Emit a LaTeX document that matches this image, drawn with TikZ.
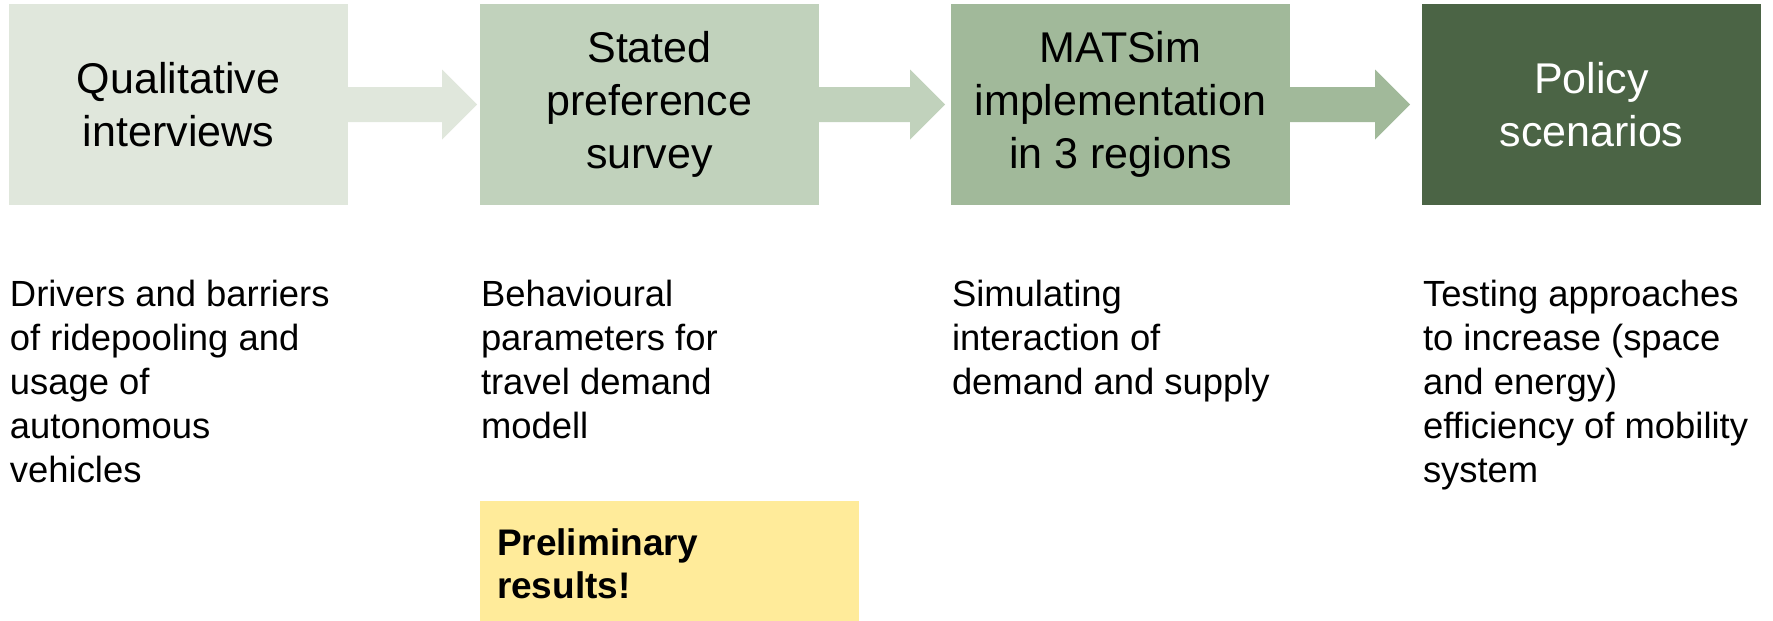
\documentclass[tikz,border=0pt]{standalone}
\usepackage{fontspec}
\setmainfont{Liberation Sans}
\usetikzlibrary{calc}
\definecolor{stageA}{HTML}{E0E7DC}
\definecolor{stageB}{HTML}{C1D2BC}
\definecolor{stageC}{HTML}{A1B99A}
\definecolor{stageD}{HTML}{4B6445}
\definecolor{notefill}{HTML}{FFEB9A}
\begin{document}
\begin{tikzpicture}[x=0.5pt,y=-0.5pt,
  stagebox/.style={rectangle, inner sep=0pt, outer sep=0pt,
    minimum width=169.5pt, minimum height=100.5pt, align=center,
    font=\fontsize{21.5}{26.5}\selectfont},
  desc/.style={anchor=base west, inner sep=0pt, outer sep=0pt,
    font=\fontsize{18.2}{22}\selectfont}]
\useasboundingbox (0,0) rectangle (1773,621);

% process stages
\node[stagebox, fill=stageA] (qual) at (178.5,104.5) {Qualitative\\interviews};
\node[stagebox, fill=stageB] (stat) at (649.5,104.5) {Stated\\preference\\survey};
\node[stagebox, fill=stageC] (mats) at (1120.5,104.5) {MATSim\\implementation\\in 3 regions};
\node[stagebox, fill=stageD, text=white] (poli) at (1591.5,104.5) {Policy\\scenarios};

% block arrows between stages (\gap: space left before the next stage)
\foreach \src/\dst/\col/\gap in {qual/stat/stageA/3, stat/mats/stageB/6, mats/poli/stageC/12}{
  \fill[\col] ($(\src.east)+(0,-17.5)$) -- ($(\dst.west)+(-35-\gap,-17.5)$)
    -- ($(\dst.west)+(-35-\gap,-35)$) -- ($(\dst.west)+(-\gap,0)$)
    -- ($(\dst.west)+(-35-\gap,35)$) -- ($(\dst.west)+(-35-\gap,17.5)$)
    -- ($(\src.east)+(0,17.5)$) -- cycle;
}

% descriptions
\node[desc] (dqual) at (10,306) {\parbox[t]{170pt}{\raggedright Drivers and barriers\\of ridepooling and\\usage of\\autonomous\\vehicles}};
\node[desc] (dstat) at (481,306) {\parbox[t]{170pt}{\raggedright Behavioural\\parameters for\\travel demand\\modell}};
\node[desc] (dmats) at (952,306) {\parbox[t]{170pt}{\raggedright Simulating\\interaction of\\demand and supply}};
\node[desc] (dpoli) at (1423,306) {\parbox[t]{170pt}{\raggedright Testing approaches\\to increase (space\\and energy)\\efficiency of mobility\\system}};

% note
\fill[notefill] (480,501) rectangle (859,621);
\node[desc, font=\fontsize{18.5}{21.5}\selectfont\bfseries] (note) at (497,555) {\parbox[t]{170pt}{\raggedright Preliminary\\results!}};
\end{tikzpicture}
\end{document}
